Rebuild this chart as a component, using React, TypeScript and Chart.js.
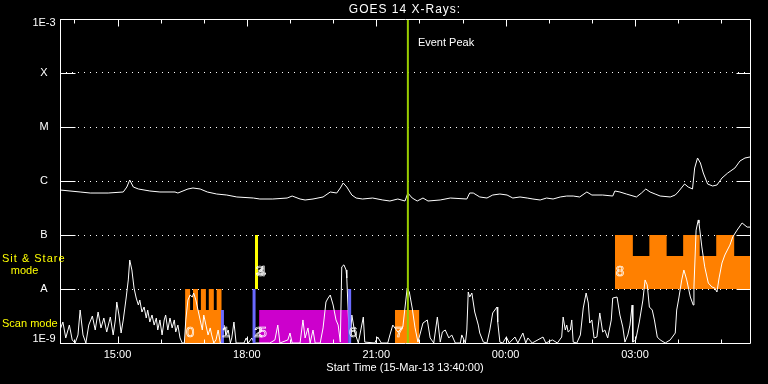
import React, { useEffect, useRef } from "react";
import { Chart, registerables } from "chart.js";

Chart.register(...registerables);

const FONT = '"Liberation Sans", Arial, sans-serif';
const NANO = 1e-9; // series values are stored in units of 1e-9 W/m^2

const TITLE = "GOES 14 X-Rays:";
const X_TITLE = "Start Time (15-Mar-13 13:40:00)";
const EVENT_TEXT = "Event Peak";
const X_MIN = 0; // minutes after 13:40
const X_MAX = 960;
const HOUR_TICKS = [20, 80, 140, 200, 260, 320, 380, 440, 500, 560, 620, 680, 740, 800, 860, 920];
const HOUR_LABELS = ["", "15:00", "", "", "18:00", "", "", "21:00", "", "", "00:00", "", "", "03:00", "", ""];
const Y_LEVELS = [1e-9, 1e-8, 1e-7, 1e-6, 1e-5, 1e-4, 1e-3];
const Y_LABELS = ["1E-9", "A", "B", "C", "M", "X", "1E-3"];

// short channel (lower curve)
const LOW_T = [0,4,8,13,17,21,25,28,32,36,40,45,49,53,57,61,65,70,74,77,79,82,85,88,92,95,97,100,103,106,109,111,114,117,120,122,125,128,131,134,136,139,142,145,147,150,153,156,159,161,164,167,170,173,175,178,181,184,186,189,192,195,198,200,203,206,209,211,214,217,220,223,225,228,231,234,237,239,242,245,250,256,259,262,267,270,278,292,299,303,306,317,320,323,334,338,341,345,348,352,355,362,366,370,373,376,380,384,387,390,392,395,398,399,402,404,406,410,415,422,424,438,442,447,456,459,463,470,477,483,486,490,494,498,505,511,515,520,525,529,532,536,541,545,550,557,559,564,566,568,570,573,577,582,584,589,594,598,602,608,609,612,616,621,625,633,637,644,648,651,657,672,676,685,692,698,700,703,705,707,710,712,714,719,724,728,732,735,737,740,743,747,751,755,758,762,767,769,775,779,783,786,790,793,796,797,801,806,811,814,817,820,824,827,831,835,842,849,856,858,861,865,868,872,877,881,882,885,888,889,893,897,902,907,911,914,917,921,925,932,936,942,949,956,960];
const LOW_V = [1.74,2.45,1.24,2.15,1.14,1.0,1.41,4.08,1.41,1.0,2.15,3.16,1.74,3.75,1.9,2.9,1.6,3.03,1.41,2.67,5.74,3.3,1.53,2.67,6.81,14.7,34.4,22.5,10.4,6.81,5.05,6.25,3.75,4.64,2.9,4.08,2.45,3.3,2.15,2.9,1.74,2.67,1.41,2.67,3.3,1.74,2.9,1.9,2.67,1.6,2.15,1.24,1.0,1.0,2.67,6.25,7.74,7.1,8.43,6.25,4.08,2.67,1.74,3.3,2.15,1.41,1.9,1.41,1.0,1.14,1.74,1.0,1.0,2.15,1.41,1.74,1.0,1.24,2.45,1.0,1.0,1.0,1.24,1.0,1.24,1.0,1.0,1.0,1.14,2.15,1.0,1.14,1.53,1.0,1.0,2.67,1.24,1.9,1.0,1.74,1.0,1.0,1.9,5.74,6.81,7.74,5.05,2.67,2.15,1.04,25.7,28,22.5,16,1.74,1.04,3.3,1.6,1.0,3.03,1.04,1.0,1.29,1.0,1.0,1.41,2.15,1.6,1.98,10.4,8.8,4.45,1.9,1.04,2.34,2.67,1.24,1.0,3.03,1.04,1.6,1.74,1.24,1.41,1.0,1.0,1.41,1.0,1.74,8.8,7.1,8.43,3.75,2.15,1.53,1.04,1.0,1.74,3.6,4.64,2.45,1.04,1.0,1.29,1.0,1.29,1.0,1.53,1.0,1.24,1.0,1.29,1.0,1.14,1.0,1.29,3.03,1.74,2.15,1.6,1.74,2.67,1.04,1.0,1.41,4.45,8.43,5.5,2.34,2.67,1.24,1.29,3.6,1.6,1.74,1.24,2.67,6.81,7.1,3.3,1.98,1.04,1.41,2.15,5.05,1.04,1.14,2.45,6.25,14.7,11.9,4.64,4.08,2.67,1.29,1.14,1.0,1.14,1.53,4.08,6.81,14.7,22.5,14.7,7.1,5.05,10.9,123,190,167,60,25.7,12.9,10.9,10.4,8.8,16,30.3,42.6,65,92,123,167,140,140];

// long channel (upper curve)
const HIGH_T = [0,28,42,67,88,93,97,102,109,125,139,160,164,178,185,195,205,218,232,246,269,278,296,316,323,334,341,352,366,376,385,390,394,399,406,412,421,435,449,459,470,480,484,490,497,505,512,529,543,566,570,575,584,594,602,612,622,630,640,650,658,668,677,686,696,705,714,723,733,740,755,769,772,779,788,802,809,815,821,828,835,849,856,860,869,874,880,883,887,891,895,901,908,914,921,929,939,946,953,960];
const HIGH_V = [681,626,599,599,626,774,1044,774,711,653,626,626,599,711,742,711,626,574,550,506,484,464,464,484,527,464,445,464,506,626,599,742,918,774,550,484,464,484,445,426,464,426,599,484,426,484,426,445,484,464,599,599,506,484,550,574,550,484,506,484,464,445,484,464,506,527,527,506,626,550,550,527,653,626,574,506,599,711,626,574,527,506,550,626,880,774,711,1741,2667,2154,1406,880,808,843,1136,1406,1741,2346,2667,2783];

// observation blocks (stepped levels, nano units)
const SCAN0_T = [174, 181, 185, 192, 196, 203, 207, 214, 218, 225];
const SCAN0_V = [10, 4.08, 10, 4.08, 10, 4.08, 10, 4.08, 10, 10];
const SCAN5_T = [277, 401];
const SCAN5_V = [4.08, 4.08];
const SCAN7_T = [466, 500];
const SCAN7_V = [4.08, 4.08];
const STARE8_T = [772, 797, 820, 844, 867, 890, 913, 938, 960];
const STARE8_V = [100, 40.8, 100, 40.8, 100, 40.8, 100, 40.8, 40.8];

// single-time markers
const MARK_T = [226, 270, 273.4, 403];
const MARK_LO = [1, 1, 10, 1];
const MARK_HI = [4.08, 10, 100, 10];
const MARK_COLORS = ["#6a6aff", "#6a6aff", "#ffff00", "#6a6aff"];
const EVENT_T = 484;

// numbered labels
const NUM_TEXT = ["0", "1", "2", "3", "4", "5", "6", "7", "8"];
const NUM_T = [181, 231, 276, 278, 281, 282, 408, 472, 779];
const NUM_V = [1.56, 1.56, 1.56, 20.6, 20.6, 1.56, 1.56, 1.56, 20.6];

const ORANGE = "#ff8000";
const MAGENTA = "#cc00cc";
const EVENT_COLOR = "#99cc00";

const pts = (t: number[], v: number[]) => t.map((x, i) => ({ x, y: v[i] * NANO }));

const setSpacing = (ctx: any, s: string) => { try { ctx.letterSpacing = s; } catch (e) {} };

const overlay = {
  id: "goesOverlay",
  afterDraw(chart: any) {
    const { ctx, chartArea: a, scales } = chart;
    const xs = scales.x;
    const ys = scales.y;
    const al = (p: number) => Math.round(p) + 0.5;
    const L = al(a.left), R = al(a.right), T = al(a.top), B = al(a.bottom);
    ctx.save();
    ctx.strokeStyle = "#ffffff";
    ctx.lineWidth = 1;
    ctx.beginPath();
    ctx.rect(L, T, R - L, B - T);
    Y_LEVELS.forEach((v, i) => {
      if (i === 0 || i === Y_LEVELS.length - 1) return;
      const py = al(ys.getPixelForValue(v));
      ctx.moveTo(L, py); ctx.lineTo(L + 15, py);
      ctx.moveTo(R - 14, py); ctx.lineTo(R, py);
    });
    xs.ticks.forEach((t: any) => {
      const idx = HOUR_TICKS.indexOf(t.value);
      const len = idx >= 0 && HOUR_LABELS[idx] ? 7 : 4;
      const px = al(xs.getPixelForValue(t.value));
      ctx.moveTo(px, T); ctx.lineTo(px, T + len);
      ctx.moveTo(px, B); ctx.lineTo(px, B - len);
    });
    ctx.stroke();

    // y labels
    ctx.fillStyle = "#ffffff";
    ctx.font = `11px ${FONT}`;
    ctx.textAlign = "center";
    ctx.textBaseline = "middle";
    Y_LEVELS.forEach((v, i) => {
      let py = ys.getPixelForValue(v);
      py = Math.min(Math.max(py, a.top + 4), a.bottom - 4);
      ctx.fillText(Y_LABELS[i], a.left - 16, py);
    });

    // title
    ctx.font = `12px ${FONT}`;
    setSpacing(ctx, "1px");
    ctx.fillText(TITLE, (a.left + a.right) / 2, 10);
    setSpacing(ctx, "0px");

    // event text
    ctx.font = `11px ${FONT}`;
    ctx.textAlign = "left";
    ctx.fillText(EVENT_TEXT, xs.getPixelForValue(EVENT_T) + 10, a.top + 24);

    // mode labels
    ctx.fillStyle = "#ffff00";
    const pA = ys.getPixelForValue(1e-8);
    const pB = ys.getPixelForValue(1e-7);
    const p9 = ys.getPixelForValue(1e-9);
    const midS = (pA + pB) / 2;
    setSpacing(ctx, "1px");
    ctx.fillText("Sit & Stare", 2, midS - 3.5);
    setSpacing(ctx, "0px");
    ctx.textAlign = "center";
    ctx.fillText("mode", 24.5, midS + 9);
    ctx.textAlign = "left";
    ctx.fillText("Scan mode", 2, (pA + p9) / 2 + 8);

    // numbered labels (outlined digits)
    ctx.strokeStyle = "#ffffff";
    ctx.lineWidth = 0.7;
    ctx.font = `15px ${FONT}`;
    ctx.textAlign = "center";
    ctx.textBaseline = "middle";
    NUM_TEXT.forEach((s, i) => {
      ctx.strokeText(s, xs.getPixelForValue(NUM_T[i]), ys.getPixelForValue(NUM_V[i] * NANO));
    });
    ctx.restore();
  },
};

export default function App() {
  const ref = useRef<HTMLCanvasElement>(null);
  useEffect(() => {
    const canvas = ref.current;
    if (!canvas) return;
    const base = { pointRadius: 0, pointHoverRadius: 0, tension: 0 };
    const block = (t: number[], v: number[], color: string, fill: any, order: number) => ({
      ...base,
      data: pts(t, v),
      stepped: true,
      borderWidth: 1,
      borderColor: "rgba(0,0,0,0)",
      backgroundColor: color,
      fill,
      order,
    });
    const datasets: any[] = [
      block(SCAN0_T, SCAN0_V, ORANGE, "start", 5),
      block(SCAN5_T, SCAN5_V, MAGENTA, "start", 5),
      block(SCAN7_T, SCAN7_V, ORANGE, "start", 5),
      block(STARE8_T, STARE8_V, ORANGE, { value: 1e-8 }, 5),
      { ...base, data: pts(HIGH_T, HIGH_V), borderColor: "#ffffff", borderWidth: 1, fill: false, order: 2 },
      { ...base, data: pts(LOW_T, LOW_V), borderColor: "#ffffff", borderWidth: 1, fill: false, order: 2 },
      ...MARK_T.map((t, i) => ({
        ...base,
        data: [{ x: t, y: MARK_LO[i] * NANO }, { x: t, y: MARK_HI[i] * NANO }],
        borderColor: MARK_COLORS[i],
        borderWidth: 3,
        fill: false,
        order: 1,
      })),
      {
        ...base,
        data: [{ x: EVENT_T, y: Y_LEVELS[0] }, { x: EVENT_T, y: Y_LEVELS[Y_LEVELS.length - 1] }],
        borderColor: EVENT_COLOR,
        borderWidth: 2,
        fill: false,
        order: 0,
      },
    ];
    const chart = new Chart(canvas, {
      type: "line",
      data: { datasets },
      options: {
        responsive: false,
        animation: false,
        events: [],
        layout: { padding: { left: 0, right: 18, top: 19, bottom: 0 } },
        plugins: { legend: { display: false }, tooltip: { enabled: false }, title: { display: false } },
        scales: {
          x: {
            type: "linear",
            min: X_MIN,
            max: X_MAX,
            afterBuildTicks: (s: any) => { s.ticks = HOUR_TICKS.map((v) => ({ value: v })); },
            afterFit: (s: any) => { s.height = 41; },
            grid: { display: false, drawTicks: false },
            border: { display: false },
            ticks: {
              autoSkip: false,
              maxRotation: 0,
              color: "#ffffff",
              padding: 5,
              font: { family: FONT, size: 11 },
              callback: (v: any) => { const i = HOUR_TICKS.indexOf(Number(v)); return i >= 0 ? HOUR_LABELS[i] : ""; },
            },
            title: {
              display: true,
              text: X_TITLE,
              color: "#ffffff",
              font: { family: FONT, size: 11 },
              padding: { top: 4, bottom: 9 },
            },
          },
          y: {
            type: "logarithmic",
            min: Y_LEVELS[0],
            max: Y_LEVELS[Y_LEVELS.length - 1],
            afterBuildTicks: (s: any) => { s.ticks = Y_LEVELS.map((v) => ({ value: v })); },
            afterFit: (s: any) => { s.width = 60; },
            grid: { color: "#ffffff", lineWidth: 1, drawTicks: false },
            border: { display: false, dash: [1, 5] },
            ticks: { display: false },
          },
        },
      } as any,
      plugins: [overlay],
    });
    return () => chart.destroy();
  }, []);
  return (
    <div style={{ position: "fixed", left: 0, top: 0, width: 768, height: 384, background: "#000" }}>
      <canvas ref={ref} width={768} height={384} style={{ display: "block", width: 768, height: 384 }} />
    </div>
  );
}
